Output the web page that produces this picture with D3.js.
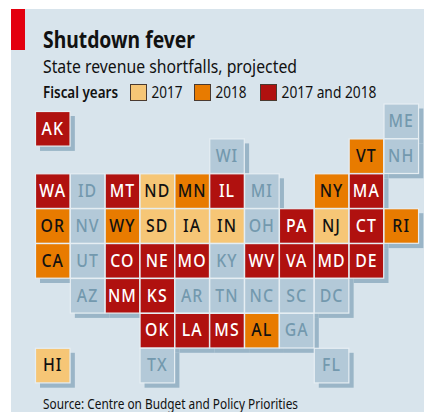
<!DOCTYPE html>
<html>
<head>
<meta charset="utf-8">
<script src="https://cdn.jsdelivr.net/npm/d3@7"></script>
<style>
html, body { margin: 0; padding: 0; background: #fff; }
svg { display: block; }
text { font-family: "Noto Sans", sans-serif; fill: #111; }
</style>
</head>
<body>
<div id="container"></div>
<script>
const WIDTH = 424;
const HEIGHT = 412;

// tile map, one array per row, empty string = no state
const tileRows = [
    ["AK", "", "", "", "", "", "", "", "", "", "ME"],
    ["", "", "", "", "", "WI", "", "", "", "VT", "NH"],
    ["WA", "ID", "MT", "ND", "MN", "IL", "MI", "", "NY", "MA", ""],
    ["OR", "NV", "WY", "SD", "IA", "IN", "OH", "PA", "NJ", "CT", "RI"],
    ["CA", "UT", "CO", "NE", "MO", "KY", "WV", "VA", "MD", "DE", ""],
    ["", "AZ", "NM", "KS", "AR", "TN", "NC", "SC", "DC", "", ""],
    ["", "", "", "OK", "LA", "MS", "AL", "GA", "", "", ""],
    ["HI", "", "", "TX", "", "", "", "", "FL", "", ""]
];

const shortfall2017 = ["ND", "SD", "IA", "IN", "NJ", "HI"];
const shortfall2018 = ["OR", "CA", "WY", "MN", "VT", "NY", "RI", "AL"];
const shortfallBoth = ["AK", "WA", "MT", "IL", "MA", "PA", "CT", "CO", "NE", "MO", "WV", "VA", "MD", "DE", "NM", "KS", "OK", "LA", "MS"];

const legendLabels = ["2017", "2018", "2017 and 2018"];
const legendX = [130, 194, 260];

const PANEL = "#d8e4ec";
const SHADOW = "#9ab5c7";
const EDGE = "#e6eef3";
const colors = { none: "#b3c9d8", y2017: "#f6c676", y2018: "#e87b00", both: "#b0110f" };
const textColors = { none: "#7399ae", y2017: "#111", y2018: "#111", both: "#fff" };

function category(state) {
    if (shortfall2017.includes(state)) return "y2017";
    if (shortfall2018.includes(state)) return "y2018";
    if (shortfallBoth.includes(state)) return "both";
    return "none";
}

const x = d3.scaleBand().domain(d3.range(11)).range([35, 35 + 34.85 * 11]);
const y = d3.scaleBand().domain(d3.range(8)).range([103.5, 103.5 + 34.9 * 8]);

const tiles = [];
tileRows.forEach((row, r) => {
    row.forEach((state, c) => {
        if (state) tiles.push({ state: state, row: r, col: c, cat: category(state) });
    });
});

// Alaska sits a bit below the top row in the original
const tileY = d => y(d.row) + (d.state === "AK" ? 7.5 : 0);

const svg = d3.select("#container").append("svg")
    .attr("width", WIDTH)
    .attr("height", HEIGHT);

svg.append("rect").attr("x", 11).attr("y", 9).attr("width", WIDTH - 11).attr("height", HEIGHT - 9).attr("fill", PANEL);
svg.append("rect").attr("x", 11).attr("y", 9).attr("width", 14).attr("height", 41).attr("fill", "#e3000f");

svg.append("text").attr("x", 43).attr("y", 48)
    .attr("font-size", 24).attr("font-weight", 700).attr("textLength", 152).attr("lengthAdjust", "spacingAndGlyphs")
    .text("Shutdown fever");
svg.append("text").attr("x", 43).attr("y", 73)
    .attr("font-size", 17.8).attr("textLength", 254).attr("lengthAdjust", "spacingAndGlyphs")
    .text("State revenue shortfalls, projected");
svg.append("text").attr("x", 43).attr("y", 98)
    .attr("font-size", 16.4).attr("font-weight", 600).attr("textLength", 75).attr("lengthAdjust", "spacingAndGlyphs")
    .text("Fiscal years");

const legend = svg.selectAll("g.legend")
    .data(["y2017", "y2018", "both"])
    .join("g")
    .attr("class", "legend")
    .attr("transform", (d, i) => `translate(${legendX[i]},84)`);
legend.append("rect")
    .attr("x", 0.5).attr("y", 0.5).attr("width", 16).attr("height", 16)
    .attr("fill", d => colors[d]).attr("stroke", "#4a3a30").attr("stroke-width", 1);
legend.append("text")
    .attr("x", 21.5).attr("y", 14)
    .attr("font-size", 16.4)
    .attr("textLength", (d, i) => [31, 31, 95][i]).attr("lengthAdjust", "spacingAndGlyphs")
    .text((d, i) => legendLabels[i]);

// shadows go in first so every tile sits above all of them
svg.append("g").selectAll("rect")
    .data(tiles)
    .join("rect")
    .attr("x", d => x(d.col) + 5)
    .attr("y", d => tileY(d) + 5)
    .attr("width", x.bandwidth())
    .attr("height", y.bandwidth())
    .attr("fill", SHADOW);

const tile = svg.append("g").selectAll("g")
    .data(tiles)
    .join("g")
    .attr("transform", d => `translate(${x(d.col)},${tileY(d)})`);
tile.append("rect")
    .attr("x", 0.5).attr("y", 0.5)
    .attr("width", x.bandwidth() - 0.3)
    .attr("height", y.bandwidth() - 0.3)
    .attr("fill", d => colors[d.cat])
    .attr("stroke", EDGE)
    .attr("stroke-width", 1.2);
// labels are narrower and taller than Noto Sans, so squeeze them sideways
tile.append("text")
    .attr("transform", `translate(${x.bandwidth() / 2 + 0.3},23.5) scale(0.88,1)`)
    .attr("text-anchor", "middle")
    .attr("font-size", 18)
    .attr("font-weight", 500)
    .attr("letter-spacing", 1.2)
    .style("fill", d => textColors[d.cat])
    .text(d => d.state);

svg.append("text").attr("x", 43).attr("y", 409)
    .attr("font-size", 14.7).attr("textLength", 255).attr("lengthAdjust", "spacingAndGlyphs")
    .text("Source: Centre on Budget and Policy Priorities");
</script>
</body>
</html>
